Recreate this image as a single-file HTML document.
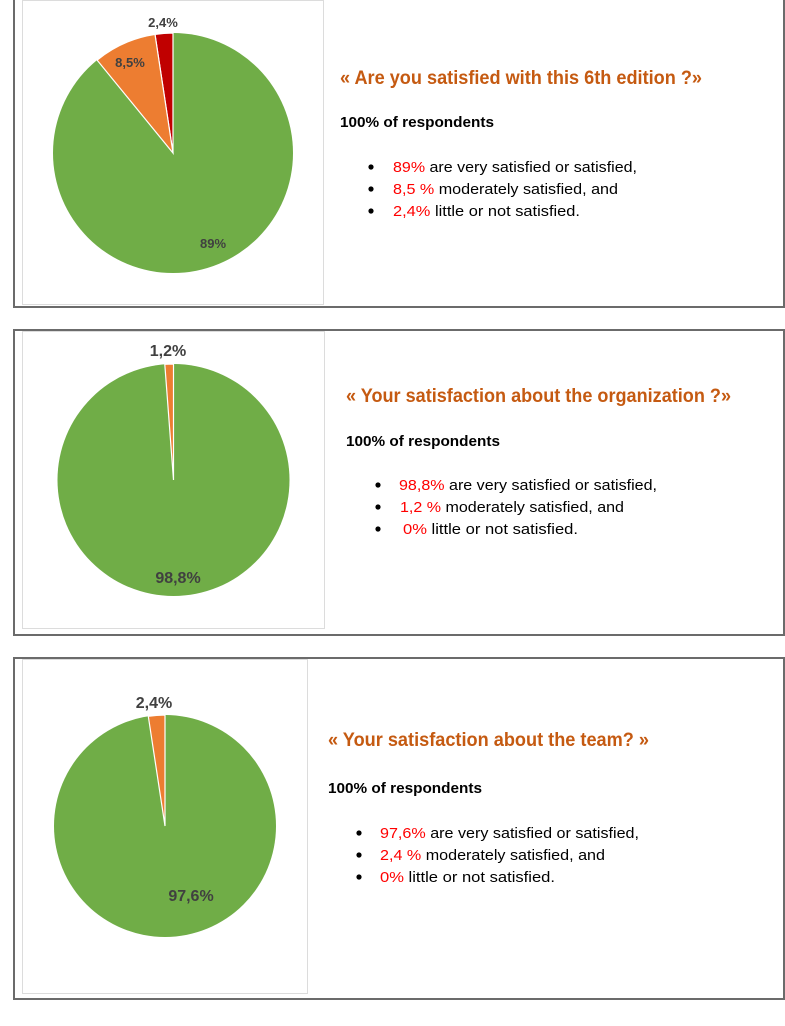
<!DOCTYPE html>
<html><head><meta charset="utf-8"><style>
html,body{margin:0;padding:0;background:#fff;}
svg{display:block;}
.t{font-family:"Liberation Sans",sans-serif;font-weight:bold;fill:#c55a11;font-size:19px;}
.h{font-family:"Liberation Sans",sans-serif;font-weight:bold;fill:#000;font-size:15px;}
.b{font-family:"Liberation Sans",sans-serif;fill:#000;font-size:15px;}
.r{fill:#ff0000;}
.l{font-family:"Liberation Sans",sans-serif;font-weight:bold;fill:#404040;}
</style></head><body>
<svg width="785" height="1026" viewBox="0 0 785 1026">
<!-- Panel 1 -->
<rect x="14" y="-2" width="770" height="309" fill="none" stroke="#6b6b6b" stroke-width="2"/>
<rect x="22.5" y="0.5" width="301" height="304" fill="none" stroke="#dcdcdc" stroke-width="1"/>
<circle cx="173" cy="153" r="120" fill="#70ad47"/>
<path d="M173,153 L173,33 A120,120 0 0 0 155,34.4 Z" fill="#c00000" stroke="#fff" stroke-width="1.2"/>
<path d="M173,153 L155,34.4 A120,120 0 0 0 97.1,60.1 Z" fill="#ed7d31" stroke="#fff" stroke-width="1.2"/>
<text class="l" x="163" y="27" font-size="13" text-anchor="middle">2,4%</text>
<text class="l" x="130" y="67" font-size="13" text-anchor="middle">8,5%</text>
<text class="l" x="213" y="248" font-size="13" text-anchor="middle">89%</text>
<text class="t" x="340" y="84" textLength="362" lengthAdjust="spacingAndGlyphs">« Are you satisfied with this 6th edition ?»</text>
<text class="h" x="340" y="127" textLength="154" lengthAdjust="spacingAndGlyphs">100% of respondents</text>
<circle cx="371" cy="167" r="2.6" fill="#000"/><circle cx="371" cy="189" r="2.6" fill="#000"/><circle cx="371" cy="211" r="2.6" fill="#000"/>
<text class="b" x="393" y="172" textLength="244" lengthAdjust="spacingAndGlyphs"><tspan class="r">89%</tspan> are very satisfied or satisfied,</text>
<text class="b" x="393" y="194" textLength="225" lengthAdjust="spacingAndGlyphs"><tspan class="r">8,5 %</tspan> moderately satisfied, and</text>
<text class="b" x="393" y="216" textLength="187" lengthAdjust="spacingAndGlyphs"><tspan class="r">2,4%</tspan> little or not satisfied.</text>

<!-- Panel 2 -->
<rect x="14" y="330" width="770" height="305" fill="none" stroke="#6b6b6b" stroke-width="2"/>
<rect x="22.5" y="331.5" width="302" height="297" fill="none" stroke="#dcdcdc" stroke-width="1"/>
<circle cx="173.5" cy="480" r="116" fill="#70ad47"/>
<path d="M173.5,480 L173.5,364 A116,116 0 0 0 164.8,364.3 Z" fill="#ed7d31" stroke="#fff" stroke-width="1.2"/>
<text class="l" x="168" y="356" font-size="16" text-anchor="middle">1,2%</text>
<text class="l" x="178" y="583" font-size="16" text-anchor="middle">98,8%</text>
<text class="t" x="346" y="402" textLength="385" lengthAdjust="spacingAndGlyphs">« Your satisfaction about the organization ?»</text>
<text class="h" x="346" y="446" textLength="154" lengthAdjust="spacingAndGlyphs">100% of respondents</text>
<circle cx="378" cy="485" r="2.6" fill="#000"/><circle cx="378" cy="507" r="2.6" fill="#000"/><circle cx="378" cy="529" r="2.6" fill="#000"/>
<text class="b" x="399" y="490" textLength="258" lengthAdjust="spacingAndGlyphs"><tspan class="r">98,8%</tspan> are very satisfied or satisfied,</text>
<text class="b" x="400" y="512" textLength="224" lengthAdjust="spacingAndGlyphs"><tspan class="r">1,2 %</tspan> moderately satisfied, and</text>
<text class="b" x="403" y="534" textLength="175" lengthAdjust="spacingAndGlyphs"><tspan class="r">0%</tspan> little or not satisfied.</text>

<!-- Panel 3 -->
<rect x="14" y="658" width="770" height="341" fill="none" stroke="#6b6b6b" stroke-width="2"/>
<rect x="22.5" y="659.5" width="285" height="334" fill="none" stroke="#dcdcdc" stroke-width="1"/>
<circle cx="165" cy="826" r="111" fill="#70ad47"/>
<path d="M165,826 L165,715 A111,111 0 0 0 148.3,716.3 Z" fill="#ed7d31" stroke="#fff" stroke-width="1.2"/>
<text class="l" x="154" y="708" font-size="16" text-anchor="middle">2,4%</text>
<text class="l" x="191" y="901" font-size="16" text-anchor="middle">97,6%</text>
<text class="t" x="328" y="746" textLength="321" lengthAdjust="spacingAndGlyphs">« Your satisfaction about the team? »</text>
<text class="h" x="328" y="793" textLength="154" lengthAdjust="spacingAndGlyphs">100% of respondents</text>
<circle cx="359" cy="833" r="2.6" fill="#000"/><circle cx="359" cy="855" r="2.6" fill="#000"/><circle cx="359" cy="877" r="2.6" fill="#000"/>
<text class="b" x="380" y="838" textLength="259" lengthAdjust="spacingAndGlyphs"><tspan class="r">97,6%</tspan> are very satisfied or satisfied,</text>
<text class="b" x="380" y="860" textLength="225" lengthAdjust="spacingAndGlyphs"><tspan class="r">2,4 %</tspan> moderately satisfied, and</text>
<text class="b" x="380" y="882" textLength="175" lengthAdjust="spacingAndGlyphs"><tspan class="r">0%</tspan> little or not satisfied.</text>
</svg>
</body></html>
